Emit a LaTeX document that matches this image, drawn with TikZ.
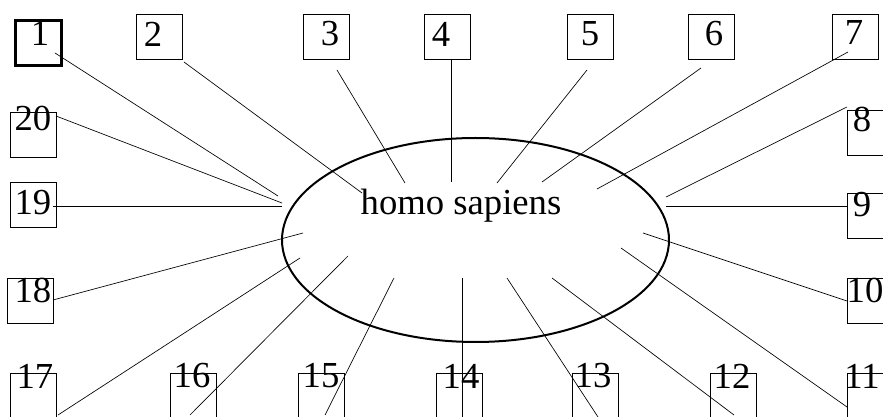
\documentclass[tikz,border=0pt]{standalone}
\usepackage{fontspec}
\setmainfont{Liberation Serif}

\tikzset{
  box/.style={draw, line width=0.6pt, minimum width=34.5pt, minimum height=33.75pt, inner sep=0pt},
  num/.style={inner sep=0pt, font=\fontsize{27.5}{32}\selectfont},
  spoke/.style={line width=0.5pt},
}

\begin{document}
\begin{tikzpicture}[x=0.75pt, y=-0.75pt]
    \useasboundingbox (0,0) rectangle (883,417);
    \clip (0,0) rectangle (883,417);
    % boxes
    \node[box, line width=1.6pt] (b1) at (38.5,43) {};
    \node[box] (b2) at (159,36.5) {};
    \node[box] (b3) at (326.5,36.5) {};
    \node[box] (b4) at (447,36.5) {};
    \node[box] (b5) at (590.5,36.5) {};
    \node[box] (b6) at (711,36.5) {};
    \node[box] (b7) at (855,36.5) {};
    \node[box] (b8) at (870,133) {};
    \node[box] (b9) at (870,215.5) {};
    \node[box] (b10) at (870,300.5) {};
    \node[box] (b11) at (870,395.5) {};
    \node[box] (b12) at (733,395.5) {};
    \node[box] (b13) at (595,395.5) {};
    \node[box] (b14) at (459,395.5) {};
    \node[box] (b15) at (321,395.5) {};
    \node[box] (b16) at (193,395.5) {};
    \node[box] (b17) at (33,395.5) {};
    \node[box] (b18) at (30,300.5) {};
    \node[box] (b19) at (33,204.5) {};
    \node[box] (b20) at (33,134.5) {};
    % numbers
    \node[num] (n1) at (40,33) {1};
    \node[num] (n2) at (153,34) {2};
    \node[num] (n3) at (330,34) {3};
    \node[num] (n4) at (441,34) {4};
    \node[num] (n5) at (590,34) {5};
    \node[num] (n6) at (714,34) {6};
    \node[num] (n7) at (854,32) {7};
    \node[num] (n8) at (862,119) {8};
    \node[num] (n9) at (862,205) {9};
    \node[num] (n10) at (865,290) {10};
    \node[num] (n11) at (862,376) {11};
    \node[num] (n12) at (732,376) {12};
    \node[num] (n13) at (593,376) {13};
    \node[num] (n14) at (461,376) {14};
    \node[num] (n15) at (321,376) {15};
    \node[num] (n16) at (192,376) {16};
    \node[num] (n17) at (35,376) {17};
    \node[num] (n18) at (33,290) {18};
    \node[num] (n19) at (33,203) {19};
    \node[num] (n20) at (33,118) {20};
    % ellipse and text
    \coordinate (O) at (475.5,240);
    \draw[line width=1.5pt] (O) ellipse (193.5 and 102);
    \node[num] (hs) at (461,206) {homo sapiens};
    % outer ends
    \coordinate (s1) at (55,53);
    \coordinate (s2) at (184,62);
    \coordinate (s3) at (337,70);
    \coordinate (s4) at (451,59);
    \coordinate (s5) at (587,70);
    \coordinate (s6) at (701,68);
    \coordinate (s7) at (848,52);
    \coordinate (s8) at (847,107);
    \coordinate (s9) at (847,206);
    \coordinate (s10) at (847,301);
    \coordinate (s11) at (847,407);
    \coordinate (s12) at (734,415);
    \coordinate (s13) at (598,417);
    \coordinate (s14) at (462,417);
    \coordinate (s15) at (325,415);
    \coordinate (s16) at (190,415);
    \coordinate (s17) at (58,415);
    \coordinate (s18) at (53,300);
    \coordinate (s19) at (53,206);
    \coordinate (s20) at (56,116);
    % inner ends
    \coordinate (e1) at (278,196);
    \coordinate (e2) at (362,193);
    \coordinate (e3) at (405,183);
    \coordinate (e4) at (451,182);
    \coordinate (e5) at (497,183);
    \coordinate (e6) at (542,182);
    \coordinate (e7) at (597,189);
    \coordinate (e8) at (666,197);
    \coordinate (e9) at (666,206);
    \coordinate (e10) at (643,233);
    \coordinate (e11) at (621,248);
    \coordinate (e12) at (552,278);
    \coordinate (e13) at (507,278);
    \coordinate (e14) at (462,278);
    \coordinate (e15) at (394,278);
    \coordinate (e16) at (348,256);
    \coordinate (e17) at (300,258);
    \coordinate (e18) at (303,233);
    \coordinate (e19) at (282,206);
    \coordinate (e20) at (282,203);
    % spokes
    \draw[spoke] (s1) -- (e1);
    \draw[spoke] (s2) -- (e2);
    \draw[spoke] (s3) -- (e3);
    \draw[spoke] (s4) -- (e4);
    \draw[spoke] (s5) -- (e5);
    \draw[spoke] (s6) -- (e6);
    \draw[spoke] (s7) -- (e7);
    \draw[spoke] (s8) -- (e8);
    \draw[spoke] (s9) -- (e9);
    \draw[spoke] (s10) -- (e10);
    \draw[spoke] (s11) -- (e11);
    \draw[spoke] (s12) -- (e12);
    \draw[spoke] (s13) -- (e13);
    \draw[spoke] (s14) -- (e14);
    \draw[spoke] (s15) -- (e15);
    \draw[spoke] (s16) -- (e16);
    \draw[spoke] (s17) -- (e17);
    \draw[spoke] (s18) -- (e18);
    \draw[spoke] (s19) -- (e19);
    \draw[spoke] (s20) -- (e20);
\end{tikzpicture}
\end{document}
